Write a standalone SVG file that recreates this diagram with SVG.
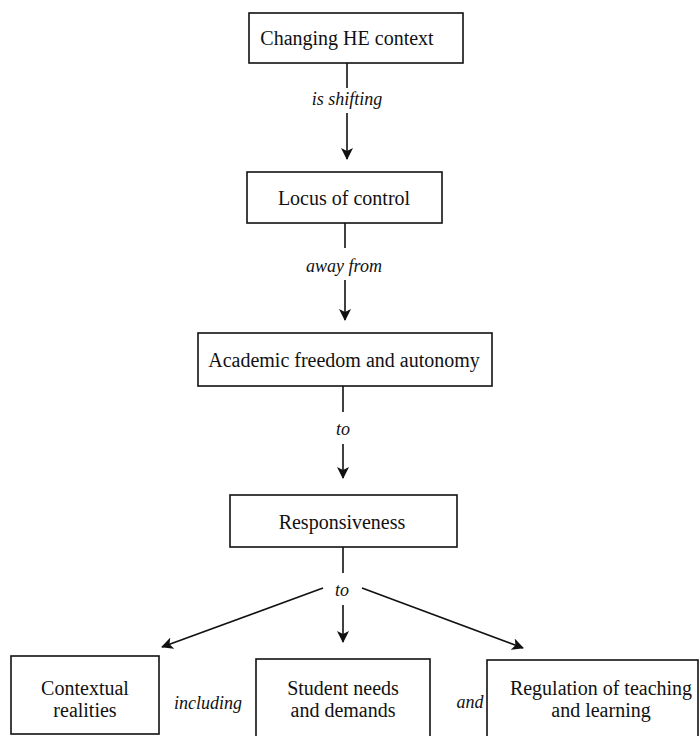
<svg xmlns="http://www.w3.org/2000/svg" width="700" height="736" viewBox="0 0 700 736">
<style>
.box{fill:#fff;stroke:#111;stroke-width:1.6}
.t{font-family:"Liberation Serif","Times New Roman",serif;font-size:20px;fill:#111;text-anchor:middle}
.l{font-family:"Liberation Serif","Times New Roman",serif;font-size:18px;font-style:italic;fill:#111;text-anchor:middle}
.c{stroke:#111;stroke-width:1.6;fill:none}
</style>
<defs>
<marker id="ah" viewBox="0 0 12 12" refX="11" refY="6" markerWidth="12" markerHeight="12" markerUnits="userSpaceOnUse" orient="auto">
<path d="M0,0 L12,6 L0,12 L3,6 z" fill="#111"/>
</marker>
</defs>
<rect width="700" height="736" fill="#fff"/>
<g id="n1">
<rect class="box" x="249" y="13" width="214" height="50"/>
<text class="t" x="347" y="45">Changing HE context</text>
</g>
<g id="n2">
<rect class="box" x="247" y="172" width="195" height="51"/>
<text class="t" x="344" y="205">Locus of control</text>
</g>
<g id="n3">
<rect class="box" x="198" y="333" width="294" height="53"/>
<text class="t" x="344" y="367">Academic freedom and autonomy</text>
</g>
<g id="n4">
<rect class="box" x="230" y="495" width="227" height="52"/>
<text class="t" x="342" y="529">Responsiveness</text>
</g>
<g id="n5">
<rect class="box" x="11" y="656" width="148" height="78"/>
<text class="t" x="85" y="695">Contextual</text>
<text class="t" x="85" y="717">realities</text>
</g>
<g id="n6">
<rect class="box" x="256" y="659" width="174" height="82"/>
<text class="t" x="343" y="695">Student needs</text>
<text class="t" x="343" y="717">and demands</text>
</g>
<g id="n7">
<rect class="box" x="487" y="660" width="211" height="82"/>
<text class="t" x="601" y="695">Regulation of teaching</text>
<text class="t" x="601" y="717">and learning</text>
</g>
<g id="connectors">
<line class="c" x1="347" y1="63" x2="347" y2="88"/>
<line class="c" x1="347" y1="113" x2="347" y2="159" marker-end="url(#ah)"/>
<line class="c" x1="345" y1="223" x2="345" y2="248"/>
<line class="c" x1="345" y1="280" x2="345" y2="320" marker-end="url(#ah)"/>
<line class="c" x1="343" y1="386" x2="343" y2="412"/>
<line class="c" x1="343" y1="444" x2="343" y2="478" marker-end="url(#ah)"/>
<line class="c" x1="343" y1="547" x2="343" y2="573"/>
<line class="c" x1="343" y1="605" x2="343" y2="642" marker-end="url(#ah)"/>
<line class="c" x1="323" y1="588" x2="162" y2="647" marker-end="url(#ah)"/>
<line class="c" x1="362" y1="588" x2="523" y2="648" marker-end="url(#ah)"/>
<text class="l" x="347" y="105">is shifting</text>
<text class="l" x="344" y="272">away from</text>
<text class="l" x="343" y="435">to</text>
<text class="l" x="342" y="596">to</text>
<text class="l" x="208" y="709">including</text>
<text class="l" x="470" y="708">and</text>
</g>
</svg>
